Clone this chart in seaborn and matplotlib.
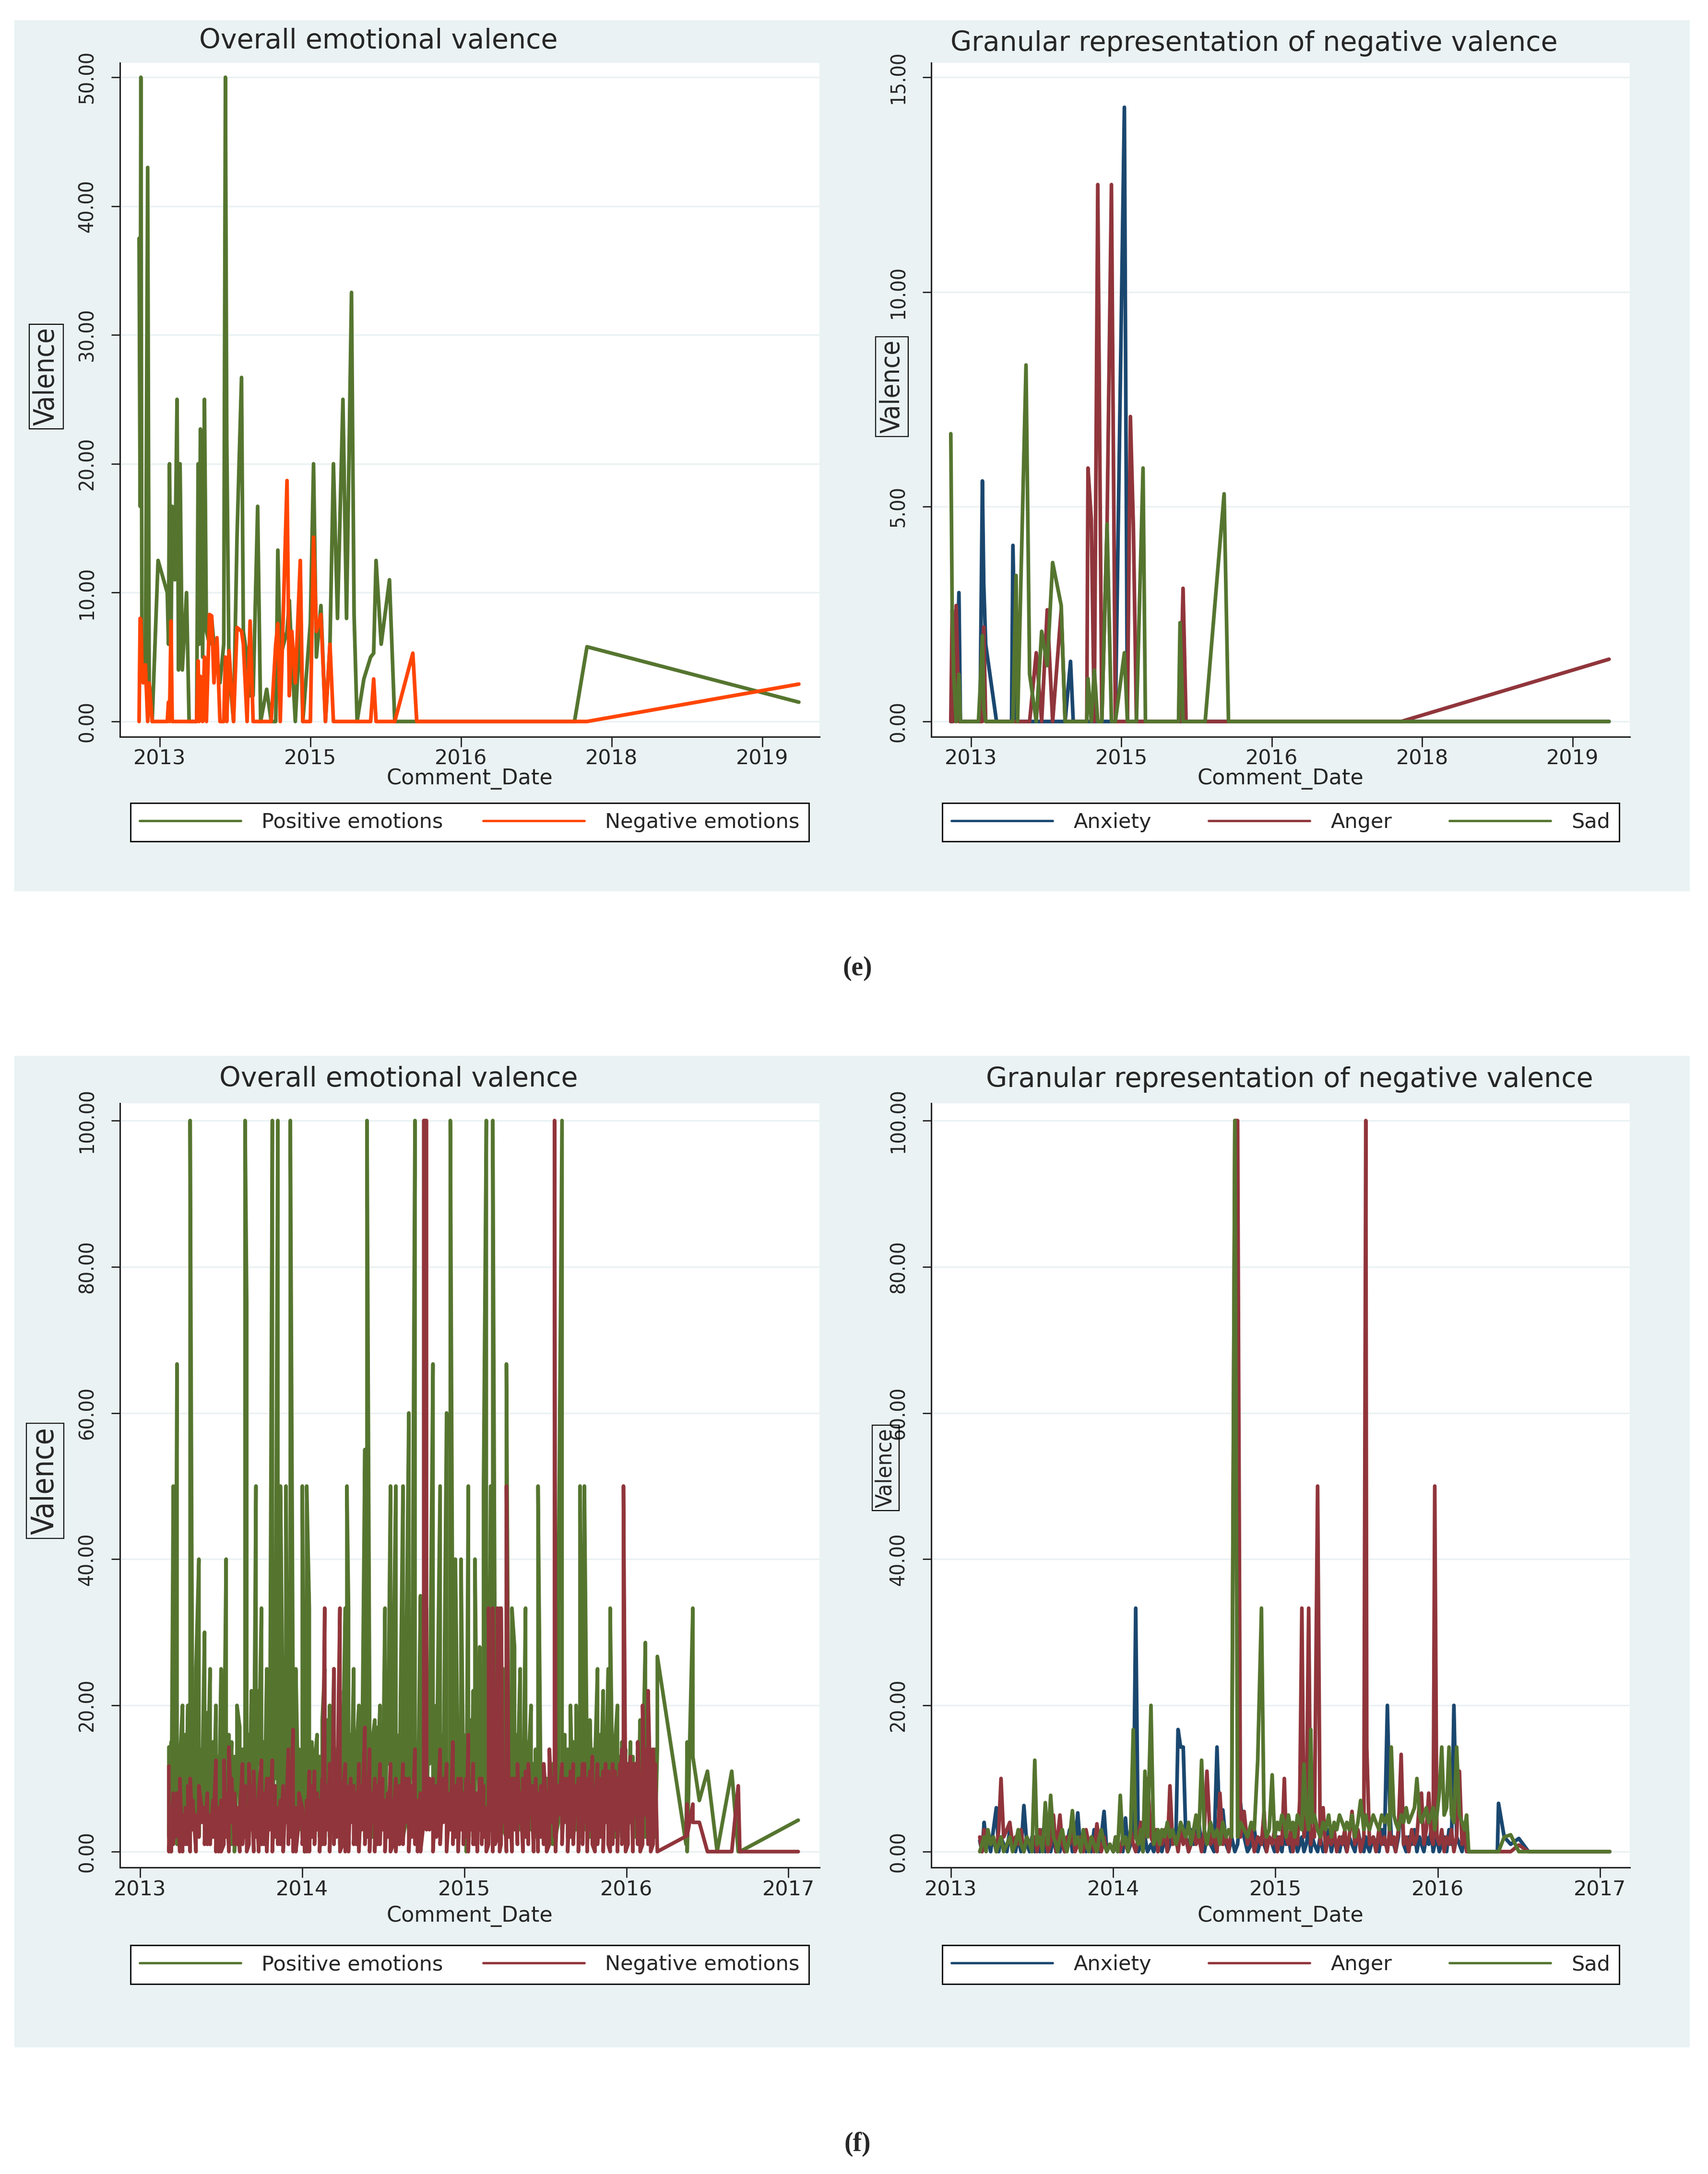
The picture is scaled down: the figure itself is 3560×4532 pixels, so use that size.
import matplotlib
matplotlib.use("Agg")
import matplotlib.pyplot as plt
from matplotlib.patches import Rectangle
import pandas as pd
import seaborn as sns

# ---------------- panel (e) ----------------
# Stata spaced the date ticks evenly, so x is kept in tick units here
e_ticks = [0, 1, 2, 3, 4]
e_ticklabels = ["2013", "2015", "2016", "2018", "2019"]

e_dates = [
    -0.137, -0.130, -0.125, -0.118, -0.110, -0.095, -0.080, -0.070, -0.050, -0.011,
    0.050, 0.058, 0.065, 0.075, 0.083, 0.100, 0.115, 0.125, 0.135, 0.150,
    0.178, 0.195, 0.245, 0.255, 0.262, 0.270, 0.285, 0.297, 0.310, 0.330,
    0.345, 0.360, 0.380, 0.400, 0.425, 0.436, 0.445, 0.460, 0.490, 0.513,
    0.543, 0.555, 0.580, 0.600, 0.620, 0.650, 0.670, 0.710, 0.740, 0.770,
    0.784, 0.800, 0.845, 0.860, 0.877, 0.900, 0.933, 0.950, 1.000, 1.021,
    1.040, 1.070, 1.100, 1.130, 1.153, 1.180, 1.216, 1.240, 1.273, 1.290,
    1.310, 1.355, 1.400, 1.420, 1.436, 1.470, 1.525, 1.560, 1.680, 1.706,
    2.753, 2.836, 4.242,
]
e_positive = [
    37.5, 16.7, 50, 5, 6, 3, 43, 3, 0, 12.5,
    10, 6, 20, 6, 16.7, 11, 25, 4, 20, 4,
    10, 0, 0, 20, 6, 22.7, 5, 25, 7, 6,
    8, 6, 5, 3, 6, 50, 22, 4, 0, 14.3,
    26.7, 7, 5, 2, 2, 16.7, 0, 2.5, 0, 0,
    13.3, 5, 7, 9.4, 5, 0, 7.7, 0, 7.7, 20,
    5, 9, 0, 6, 20, 8, 25, 8, 33.3, 8.3,
    0, 3.3, 5, 5.3, 12.5, 6, 11, 0, 0, 0,
    0, 5.8, 1.5,
]
e_negative = [
    0, 8, 7.9, 4.5, 3, 4.4, 0, 3, 0, 0,
    0, 1.5, 0, 7.8, 0, 0, 0, 0, 0, 0,
    0, 0, 0, 4.7, 0, 3.5, 0, 5, 0, 8.3,
    8.2, 3, 6.5, 0, 0, 5, 0, 5.5, 0, 7.3,
    7, 6, 0, 7.8, 0, 0, 0, 0, 0, 6,
    7.6, 0, 18.7, 2, 7, 3, 12.5, 0, 0, 14.3,
    7, 8.3, 0, 6, 0, 0, 0, 0, 0, 0,
    0, 0, 0, 3.3, 0, 0, 0, 0, 5.3, 0,
    0, 0, 2.9,
]

e_gran_dates = [
    -0.134, -0.125, -0.115, -0.098, -0.080, -0.070, 0.050, 0.060, 0.076, 0.085,
    0.098, 0.170, 0.270, 0.279, 0.300, 0.310, 0.366, 0.390, 0.434, 0.470,
    0.507, 0.543, 0.600, 0.626, 0.662, 0.680, 0.770, 0.778, 0.800, 0.820,
    0.843, 0.870, 0.905, 0.934, 0.960, 1.020, 1.040, 1.060, 1.080, 1.100,
    1.144, 1.160, 1.380, 1.390, 1.410, 1.430, 1.557, 1.683, 1.712, 2.860,
    4.242,
]
e_anxiety = [
    0, 0, 1.0, 0, 3.0, 0, 0, 0, 5.6, 3.2,
    1.8, 0, 0, 4.1, 0, 0, 0, 0, 0, 0,
    0, 0, 0, 0, 1.4, 0, 0, 0, 0, 0,
    0, 0, 0, 0, 0, 14.3, 0, 0, 0, 0,
    0, 0, 0, 0, 0, 0, 0, 0, 0, 0,
    0,
]
e_anger = [
    0, 2.6, 0, 2.7, 0, 0, 0, 0, 0, 2.2,
    0, 0, 0, 0, 0, 0, 0, 0, 1.6, 0,
    2.6, 0, 2.6, 0, 0, 0, 0, 5.9, 4.7, 0,
    12.5, 0, 4.6, 12.5, 0, 0, 0, 7.1, 4.5, 0,
    0, 0, 0, 0, 3.1, 0, 0, 0, 0, 0,
    1.45,
]
e_sad = [
    6.7, 2.6, 1.1, 0, 1.1, 0, 0, 0.7, 2.0, 0.3,
    0, 0, 0, 0, 3.4, 0, 8.3, 1.1, 0, 2.1,
    1.3, 3.7, 2.7, 0, 0, 0, 0, 1.0, 0, 1.2,
    0, 0, 4.6, 0, 0, 1.6, 0, 0, 0, 0,
    5.9, 0, 0, 2.3, 0, 0, 0, 5.3, 0, 0,
    0,
]

# ---------------- panel (f) ----------------
f_ticks = [2013, 2014, 2015, 2016, 2017]
f_ticklabels = ["2013", "2014", "2015", "2016", "2017"]

f_dates = [
    2013.178, 2013.192, 2013.205, 2013.217, 2013.228, 2013.245, 2013.262, 2013.280, 2013.295, 2013.309,
    2013.325, 2013.345, 2013.363, 2013.380, 2013.398, 2013.415, 2013.432, 2013.450, 2013.468, 2013.485,
    2013.500, 2013.517, 2013.531, 2013.548, 2013.565, 2013.582, 2013.598, 2013.615, 2013.632, 2013.648,
    2013.658, 2013.672, 2013.687, 2013.701, 2013.715, 2013.732, 2013.749, 2013.765, 2013.782, 2013.800,
    2013.816, 2013.833, 2013.850, 2013.866, 2013.883, 2013.900, 2013.915, 2013.927, 2013.944, 2013.961,
    2013.980, 2014.001, 2014.015, 2014.028, 2014.044, 2014.060, 2014.076, 2014.092, 2014.108, 2014.124,
    2014.139, 2014.155, 2014.170, 2014.184, 2014.196, 2014.212, 2014.233, 2014.250, 2014.266, 2014.276,
    2014.286, 2014.300, 2014.318, 2014.334, 2014.350, 2014.367, 2014.387, 2014.400, 2014.416, 2014.432,
    2014.448, 2014.465, 2014.480, 2014.496, 2014.511, 2014.528, 2014.545, 2014.562, 2014.578, 2014.600,
    2014.622, 2014.640, 2014.658, 2014.676, 2014.696, 2014.712, 2014.730, 2014.750, 2014.767, 2014.785,
    2014.807, 2014.828, 2014.851, 2014.870, 2014.891, 2014.914, 2014.930, 2014.945, 2014.962, 2014.980,
    2014.995, 2015.012, 2015.025, 2015.040, 2015.055, 2015.066, 2015.080, 2015.095, 2015.108, 2015.119,
    2015.136, 2015.150, 2015.163, 2015.176, 2015.190, 2015.205, 2015.218, 2015.227, 2015.240, 2015.260,
    2015.276, 2015.294, 2015.310, 2015.328, 2015.345, 2015.362, 2015.378, 2015.395, 2015.412, 2015.428,
    2015.440, 2015.455, 2015.472, 2015.490, 2015.508, 2015.525, 2015.545, 2015.557, 2015.563, 2015.580,
    2015.603, 2015.620, 2015.638, 2015.655, 2015.672, 2015.690, 2015.704, 2015.714, 2015.730, 2015.741,
    2015.758, 2015.775, 2015.790, 2015.806, 2015.822, 2015.840, 2015.857, 2015.872, 2015.888, 2015.900,
    2015.915, 2015.930, 2015.945, 2015.960, 2015.972, 2015.982, 2015.995, 2016.010, 2016.025, 2016.040,
    2016.055, 2016.070, 2016.085, 2016.100, 2016.117, 2016.134, 2016.150, 2016.165, 2016.178, 2016.191,
    2016.368, 2016.375, 2016.410, 2016.450, 2016.500, 2016.560, 2016.650, 2016.690, 2016.700, 2017.060,
]
# overall valence: two comments per date (first comment, second comment)
f_positive = [
    14.3, 0, 50, 8, 66.7, 12, 20, 3, 20, 100,
    6, 25, 40, 5, 30, 8, 25, 2, 20, 4,
    25, 10, 40, 3, 15, 0, 12, 2, 14, 100,
    75, 2, 22, 5, 50, 12, 33.3, 3, 25, 8,
    100, 10, 100, 50, 15, 50, 5, 100, 20, 25,
    3, 50, 0, 50, 33.3, 15, 3, 11, 2, 18,
    25, 6, 20, 10, 25, 4, 22, 12, 33.3, 50,
    33.3, 5, 25, 14, 20, 6, 55, 100, 20, 15,
    18, 10, 20, 5, 33.3, 12, 50, 25, 50, 8,
    50, 22, 60, 10, 100, 3, 35, 5, 33.3, 12,
    66.7, 8, 50, 5, 60, 100, 20, 40, 10, 40,
    8, 0, 50, 4, 22, 40, 10, 28, 6, 50,
    100, 10, 50, 100, 22, 12, 33.3, 8, 25, 66.7,
    3, 33.3, 28, 10, 25, 5, 33.3, 12, 20, 4,
    14, 50, 8, 12, 3, 10, 12, 6, 14, 33.3,
    100, 10, 14, 20, 4, 20, 10, 50, 20, 50,
    10, 18, 5, 12, 25, 8, 22, 10, 25, 33.3,
    8, 15, 20, 6, 15, 10, 14, 3, 15, 8,
    12, 5, 18, 10, 28.6, 6, 14, 4, 14, 26.7,
    1, 0, 33.3, 7, 11, 0, 11, 0, 0, 4.3,
]
f_positive_2 = [
    2, 15, 3, 18, 1, 2, 4, 16, 2, 5,
    17, 3, 2, 14, 4, 19, 1, 15, 3, 13,
    2, 18, 4, 16, 1, 13, 20, 17, 3, 5,
    2, 16, 3, 20, 4, 22, 1, 15, 3, 18,
    3, 20, 5, 2, 4, 6, 18, 3, 2, 4,
    14, 2, 8, 3, 2, 4, 12, 16, 13, 2,
    3, 18, 2, 16, 4, 14, 1, 20, 3, 5,
    2, 16, 4, 3, 5, 19, 2, 4, 3, 2,
    3, 17, 2, 15, 4, 20, 3, 2, 5, 16,
    2, 4, 3, 18, 5, 14, 2, 20, 4, 22,
    3, 20, 2, 16, 4, 3, 5, 2, 18, 4,
    16, 8, 3, 18, 2, 4, 21, 3, 17, 2,
    4, 22, 3, 5, 2, 20, 4, 18, 3, 2,
    14, 2, 4, 16, 3, 12, 2, 15, 3, 12,
    2, 3, 12, 2, 10, 2, 1, 11, 2, 4,
    3, 16, 2, 4, 15, 3, 18, 2, 4, 3,
    15, 2, 14, 3, 4, 16, 2, 14, 3, 2,
    14, 2, 3, 13, 2, 15, 3, 12, 4, 13,
    2, 14, 3, 15, 2, 13, 3, 12, 2, 14,
    1, 15, 13, 7, 11, 0, 11, 0, 0, 4.3,
]
f_negative = [
    11.7, 0, 8, 2, 3, 10, 0, 6, 1, 10,
    3, 5, 2, 4, 6, 1, 5, 2, 12.5, 0,
    7, 12.5, 2, 14.3, 4, 8, 1, 5, 12, 2,
    6, 12, 3, 11, 2, 8, 12.5, 1, 10, 3,
    12.5, 2, 6, 1, 9, 4, 14, 2, 16.7, 0,
    4, 1, 5, 0, 11, 2, 11, 3, 7, 1,
    33.3, 3, 12, 4, 25, 2, 33.3, 8, 12, 2,
    8, 4, 9, 1, 12, 3, 17, 2, 14, 4,
    10, 1, 12, 3, 7, 2, 12, 5, 10, 1,
    12, 4, 10, 2, 14, 0, 8, 100, 100, 3,
    10, 2, 14, 4, 12, 3, 15, 2, 10, 3,
    8, 2, 16, 3, 12, 1, 8, 3, 10, 2,
    6, 33.3, 5, 33.3, 8, 33.3, 6, 33.3, 4, 50,
    2, 10, 3, 12, 4, 10, 2, 12, 5, 9,
    3, 8, 2, 12, 6, 14, 4, 100, 10, 5,
    12, 4, 10, 2, 12, 5, 10, 3, 12, 4,
    10, 3, 13, 6, 12, 2, 11, 4, 11, 6,
    12, 3, 10, 5, 14, 50, 6, 12, 4, 12,
    5, 15, 6, 20, 5, 22, 6, 14, 5, 0,
    2.1, 2.2, 6.5, 4, 0, 0, 0, 9, 0, 0,
]
f_negative_2 = [
    0, 6, 1, 7, 8, 0, 5, 1, 9, 0,
    7, 0, 9, 6, 1, 8, 1, 7, 0, 6,
    0, 1, 8, 0, 10, 1, 6, 0, 1, 9,
    0, 1, 9, 0, 7, 0, 1, 8, 0, 10,
    0, 9, 1, 7, 0, 8, 1, 10, 0, 6,
    8, 6, 0, 7, 0, 9, 1, 8, 0, 10,
    1, 9, 0, 10, 1, 8, 0, 1, 0, 9,
    0, 10, 1, 8, 0, 9, 1, 10, 0, 8,
    0, 9, 1, 10, 0, 8, 0, 1, 0, 9,
    1, 10, 0, 9, 1, 7, 0, 4, 3, 10,
    0, 9, 1, 10, 0, 8, 1, 9, 0, 10,
    1, 10, 0, 9, 1, 8, 0, 10, 1, 9,
    0, 1, 12, 0, 1, 2, 0, 1, 11, 0,
    9, 0, 10, 1, 8, 0, 11, 1, 9, 0,
    10, 0, 9, 1, 0, 1, 10, 2, 0, 9,
    1, 10, 0, 11, 1, 9, 0, 10, 1, 12,
    0, 11, 1, 0, 1, 10, 0, 12, 1, 0,
    1, 11, 0, 12, 1, 2, 0, 1, 13, 0,
    12, 1, 0, 1, 14, 1, 0, 1, 12, 0,
    2.1, 6.5, 4, 4, 0, 0, 0, 9, 0, 0,
]
f_anxiety = [
    1.5, 0, 4, 1, 2, 0, 3, 6, 0, 2,
    1, 0, 3, 1, 0, 2, 0, 6.3, 1, 0,
    2, 0, 1, 0, 3, 0, 1, 0, 2, 0,
    1, 0, 2, 0, 1, 3, 0, 1, 5.3, 0,
    2, 0, 1, 0, 3, 1, 0, 2, 5.5, 0,
    1, 0, 2, 0, 1, 0, 4.6, 0, 1, 2,
    33.3, 0, 1, 0, 2, 0, 1, 0, 2, 0,
    1, 0, 2, 0, 1, 3, 2, 16.7, 14.3, 14.3,
    2, 0, 3, 1, 2, 4, 1, 0, 2, 1,
    0, 14.3, 2, 5.7, 1, 0, 2, 0, 1, 6.6,
    2, 0, 1, 3, 0, 2, 1, 0, 2, 1,
    0, 2, 1, 0, 3, 1, 2, 0, 1, 2,
    0, 1, 2, 0, 1, 3, 0, 2, 1, 0,
    2, 0, 1, 3, 0, 2, 1, 0, 2, 1,
    0, 2, 1, 0, 3, 1, 0, 2, 1, 0,
    2, 1, 0, 3, 1, 20, 6.5, 2, 1, 0,
    2, 8, 1, 0, 2, 1, 3, 0, 2, 1,
    0, 2, 1, 3, 0, 1, 2, 0, 1, 2,
    0, 3, 1, 20, 2, 1, 0, 2, 1, 0,
    0, 6.6, 2, 1, 1.8, 0, 0, 0, 0, 0,
]
f_anger = [
    2, 0, 3, 1, 2, 1, 2, 0, 3, 10,
    2, 3, 4, 1, 2, 1, 3, 0, 2, 1,
    1, 2, 0, 3, 1, 2, 0, 1, 5, 0,
    2, 5, 1, 0, 2, 1, 3, 0, 1, 2,
    0, 3, 1, 2, 0, 3.8, 1, 0, 2, 0,
    1, 0, 2, 1, 0, 2, 1, 0, 3, 1,
    0, 2, 4, 1, 3, 10, 2, 1, 3, 0,
    2, 1, 3, 0, 9, 1, 2, 0, 3, 1,
    2, 0, 1, 3, 1, 2, 0, 3, 11, 1,
    2, 0, 8, 1, 2, 0, 3, 100, 100, 2,
    5.5, 1, 3, 0, 2, 1, 5.5, 0, 2, 1,
    3, 0, 2, 1, 10, 2, 1, 3, 0, 2,
    1, 7, 33.3, 2, 4, 33.3, 1, 3, 2, 50,
    1, 6, 0, 2, 1, 3, 0, 2, 1, 3,
    0, 2, 5.5, 1, 3, 0, 2, 100, 14.3, 1,
    2, 0, 3, 1, 2, 0, 3, 1, 2, 0,
    3, 13.3, 1, 2, 0, 3, 1, 2, 7, 8,
    1, 3, 8, 2, 1, 50, 2, 1, 3, 0,
    2, 1, 3, 0, 2, 11, 1, 3, 0, 0,
    0, 0, 0, 0, 0.9, 0, 0, 0, 0, 0,
]
f_sad = [
    0, 1, 2, 0, 3, 1, 2, 0, 1, 2,
    0, 1, 2, 0, 1, 3, 1, 0, 2, 1,
    0, 12.5, 1, 2, 0, 6.7, 1, 7.7, 2, 1,
    0, 2, 3, 1, 0, 2, 5.6, 1, 2, 0,
    3, 1, 0, 2, 1, 0, 2, 3, 1, 0,
    1, 0, 2, 0, 7.7, 1, 2, 0, 3, 16.7,
    2, 1, 3, 0, 11, 2, 20, 1, 2, 3,
    1, 3, 2, 4, 2, 3, 1, 2, 4, 3,
    2, 4, 1, 3, 5, 2, 12.5, 3, 1, 4,
    2, 3, 1, 4, 2, 3, 2, 100, 2, 4,
    3, 2, 4, 3, 12.5, 33.3, 4, 2, 3, 10.5,
    2, 4, 3, 5, 4, 2, 5, 3, 4, 2,
    5, 4, 3, 12, 5, 3, 16.7, 4, 5, 3,
    2, 4, 3, 5, 2, 4, 3, 5, 4, 3,
    4, 3, 5, 2, 4, 7, 3, 5, 4, 3,
    5, 4, 3, 5, 4, 5, 3, 14.3, 5, 4,
    3, 5, 4, 6, 4, 5, 6, 10, 5, 4,
    5, 6, 4, 5, 6, 3, 5, 8, 14.3, 5,
    6, 14.3, 5, 4, 14.3, 5, 4, 3, 5, 0,
    0, 0, 2, 2.3, 0, 0, 0, 0, 0, 0,
]

# ---------------- styling ----------------
W, H = 3560, 4532
BG = "#eaf2f3"
GREEN = "#55752f"
ORANGE = "#ff4500"
MAROON = "#90353b"
NAVY = "#1a476f"
AXC = "#222222"
NARROW = ["Liberation Sans Narrow", "DejaVu Sans"]
LW = 5.5

sns.set_style("ticks")
plt.rcParams["font.family"] = ["DejaVu Sans"]

fig = plt.figure(figsize=(W / 100, H / 100), dpi=100)
fig.patch.set_facecolor("white")

# light graph-region bands behind each row
for x0, y0, x1, y1 in [(30, 42, 3522, 1858), (30, 2201, 3522, 4268)]:
    fig.add_artist(Rectangle((x0 / W, 1 - y1 / H), (x1 - x0) / W, (y1 - y0) / H,
                             transform=fig.transFigure, facecolor=BG,
                             edgecolor="none", zorder=-5))


def px_axes(l, t, r, b):
    return fig.add_axes([l / W, 1 - b / H, (r - l) / W, (b - t) / H])


def to_long(dates, series, names):
    # series: one list per name, or a (first, second) pair when a date holds two comments
    rows = []
    for n, s in zip(names, series):
        if isinstance(s, tuple):
            first, second = s
            for i, d in enumerate(dates):
                pair = (first[i], second[i]) if i % 2 == 0 else (second[i], first[i])
                rows.append((d, n, pair[0]))
                rows.append((d, n, pair[1]))
        else:
            for d, v in zip(dates, s):
                rows.append((d, n, v))
    return pd.DataFrame(rows, columns=["Comment_Date", "series", "Valence"])


def draw(ax, dates, series, names, colors):
    long = to_long(dates, series, names)
    sns.lineplot(data=long, x="Comment_Date", y="Valence", hue="series",
                 hue_order=names, palette=colors, estimator=None, sort=False,
                 linewidth=LW, legend=False, ax=ax)
    return ax.get_lines()[:len(names)]


def style(ax, xlim, ylim, xticks, xlabels, yticks, xlab_y):
    ax.set_facecolor("white")
    ax.set_xlim(*xlim)
    ax.set_ylim(*ylim)
    ax.set_xticks(xticks, xlabels, fontsize=31)
    ax.set_yticks(yticks, [f"{v:.2f}" for v in yticks], fontsize=31,
                  rotation=90, va="center", family=NARROW, fontstretch="condensed")
    ax.yaxis.grid(True, color=BG, lw=2.5)
    ax.xaxis.grid(False)
    ax.set_axisbelow(True)
    for s in ["top", "right"]:
        ax.spines[s].set_visible(False)
    for s in ["left", "bottom"]:
        ax.spines[s].set_linewidth(2.2)
        ax.spines[s].set_color(AXC)
    ax.tick_params(axis="x", length=15, width=2, pad=3, color=AXC)
    ax.tick_params(axis="y", length=13, width=2, pad=21, color=AXC)
    ax.set_ylabel("")
    ax.set_xlabel("Comment_Date", fontsize=32)
    ax.xaxis.set_label_coords(0.5, xlab_y)
    ax.xaxis.label.set_va("center")


def legend(handles, labels, l, t, r, b, ncol):
    leg = fig.legend(handles, labels, loc="center",
                     bbox_to_anchor=(l / W, 1 - b / H, (r - l) / W, (b - t) / H),
                     bbox_transform=fig.transFigure, mode="expand", ncol=ncol,
                     frameon=True, fancybox=False, edgecolor="black",
                     facecolor="white", framealpha=1, fontsize=31,
                     handlelength=4.9, handletextpad=1.0, borderpad=0.45,
                     columnspacing=1.0, borderaxespad=0)
    leg.get_frame().set_linewidth(2)
    for ln in leg.get_lines():
        ln.set_linewidth(3.5)


def label(x, y, text, size, **kw):
    fig.text(x / W, 1 - y / H, text, ha="center", va="center", fontsize=size, **kw)


def valence(x, y, size):
    label(x, y, "Valence", size, rotation=90, family=NARROW, fontstretch="condensed",
          bbox=dict(boxstyle="square,pad=0.12", fc="none", ec="black", lw=1.6))


# (e) left: overall valence
ax = px_axes(250, 131, 1708, 1536)
h = draw(ax, e_dates, [e_positive, e_negative],
         ["Positive emotions", "Negative emotions"], [GREEN, ORANGE])
style(ax, (-0.264, 4.379), (-1.19, 51.12), e_ticks, e_ticklabels,
      [0, 10, 20, 30, 40, 50], (1536 - 1624) / 1405)
legend(h, ["Positive emotions", "Negative emotions"], 272, 1670, 1686, 1758, 2)
label(789, 85, "Overall emotional valence", 41)
valence(96, 785, 42)

# (e) right: granular negative valence
ax = px_axes(1941, 131, 3397, 1536)
h = draw(ax, e_gran_dates, [e_anxiety, e_anger, e_sad],
         ["Anxiety", "Anger", "Sad"], [NAVY, MAROON, GREEN])
style(ax, (-0.264, 4.380), (-0.357, 15.335), e_ticks, e_ticklabels,
      [0, 5, 10, 15], (1536 - 1624) / 1405)
legend(h, ["Anxiety", "Anger", "Sad"], 1964, 1670, 3375, 1758, 3)
label(2614, 91, "Granular representation of negative valence", 41)
valence(1859, 806, 40)

# (f) left: overall valence
ax = px_axes(250, 2300, 1708, 3893)
h = draw(ax, f_dates, [(f_positive, f_positive_2), (f_negative, f_negative_2)],
         ["Positive emotions", "Negative emotions"], [GREEN, MAROON])
style(ax, (2012.876, 2017.191), (-2.17, 102.36), f_ticks, f_ticklabels,
      [0, 20, 40, 60, 80, 100], (3893 - 3995) / 1593)
legend(h, ["Positive emotions", "Negative emotions"], 272, 4046, 1686, 4145, 2)
label(831, 2250, "Overall emotional valence", 41)
valence(94, 3087, 46)

# (f) right: granular negative valence
ax = px_axes(1941, 2300, 3397, 3893)
h = draw(ax, f_dates, [f_anxiety, f_anger, f_sad],
         ["Anxiety", "Anger", "Sad"], [NAVY, MAROON, GREEN])
style(ax, (2012.879, 2017.184), (-2.17, 102.36), f_ticks, f_ticklabels,
      [0, 20, 40, 60, 80, 100], (3893 - 3995) / 1593)
legend(h, ["Anxiety", "Anger", "Sad"], 1964, 4046, 3375, 4145, 3)
label(2688, 2250, "Granular representation of negative valence", 41)
valence(1846, 3060, 34)

# sub-figure captions
label(1787, 2019, "(e)", 40, family=["Liberation Serif", "DejaVu Serif"], weight="bold")
label(1787, 4470, "(f)", 40, family=["Liberation Serif", "DejaVu Serif"], weight="bold")

fig.savefig("out.png", dpi=100)
